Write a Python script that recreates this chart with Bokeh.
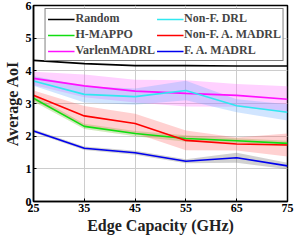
from bokeh.plotting import figure
from bokeh.models import Legend, LegendItem, Range1d, ColumnDataSource
from bokeh.embed import file_html
from bokeh.resources import INLINE

capacity = [25, 35, 45, 55, 65, 75]
x_ticks = [25, 35, 45, 55, 65, 75]
y_ticks = [0, 1, 2, 3, 4, 5, 6]

random_v = [4.32, 4.22, 4.16, 4.16, 4.15, 4.15]
nonf_drl = [3.69, 3.28, 3.21, 3.40, 2.93, 2.73]
varlen = [3.77, 3.54, 3.38, 3.31, 3.25, 3.13]
hmappo = [3.16, 2.30, 2.08, 1.93, 1.86, 1.78]
nonf_amadrl = [3.25, 2.62, 2.39, 1.87, 1.76, 1.73]
fa_madrl = [2.16, 1.63, 1.49, 1.23, 1.34, 1.09]

# half widths of the shaded bands
nonf_drl_sd = [0.15, 0.25, 0.25, 0.30, 0.20, 0.25]
varlen_sd = [0.20, 0.35, 0.35, 0.40, 0.35, 0.40]
hmappo_sd = [0.10, 0.08, 0.08, 0.10, 0.08, 0.08]
nonf_amadrl_sd = [0.15, 0.30, 0.30, 0.30, 0.20, 0.35]
fa_madrl_sd = [0.05, 0.05, 0.06, 0.06, 0.15, 0.10]

series = [
    ("Random", random_v, None, "#000000", None),
    ("H-MAPPO", hmappo, hmappo_sd, "#10dd10", "#66bb22"),
    ("VarlenMADRL", varlen, varlen_sd, "#ff10ff", "#ff66ff"),
    ("Non-F. DRL", nonf_drl, nonf_drl_sd, "#30e8f0", "#66aaff"),
    ("Non-F. A. MADRL", nonf_amadrl, nonf_amadrl_sd, "#ff0000", "#ff6666"),
    ("F. A. MADRL", fa_madrl, fa_madrl_sd, "#0000ee", "#666666"),
]

FONT = "Liberation Serif"

p = figure(width=295, height=236, output_backend="svg", toolbar_location=None,
           x_range=Range1d(25, 75), y_range=Range1d(0, 6),
           min_border_left=26, min_border_right=8, min_border_top=5, min_border_bottom=0)

for name, vals, sd, col, bcol in series:
    if sd is None:
        continue
    lo = [v - s for v, s in zip(vals, sd)]
    hi = [v + s for v, s in zip(vals, sd)]
    p.varea(x=capacity, y1=lo, y2=hi, fill_color=bcol, fill_alpha=0.3)

items = {}
for name, vals, sd, col, bcol in series:
    r = p.line(capacity, vals, line_color=col, line_width=1.6)
    items[name] = r

order = ["Random", "H-MAPPO", "VarlenMADRL", "Non-F. DRL", "Non-F. A. MADRL", "F. A. MADRL"]
legend = Legend(items=[LegendItem(label=n, renderers=[items[n]]) for n in order],
                location="top_right", nrows=3, orientation="vertical")
legend.label_text_font = FONT
legend.label_text_font_style = "bold"
legend.label_text_font_size = "12px"
legend.label_height = 12
legend.glyph_height = 12
legend.glyph_width = 27
legend.label_standoff = 1
legend.spacing = 1
legend.padding = 2
legend.margin = 3
legend.border_line_color = "black"
legend.border_line_width = 1.5
legend.background_fill_alpha = 1
p.add_layout(legend)

p.xaxis.ticker = x_ticks
p.yaxis.ticker = y_ticks
for ax in (p.xaxis, p.yaxis):
    ax.major_label_text_font = FONT
    ax.major_label_text_font_style = "bold"
    ax.major_label_text_font_size = "12px"
    ax.axis_label_text_font = FONT
    ax.axis_label_text_font_style = "bold"
    ax.axis_label_text_font_size = "16px"
    ax.axis_line_color = "black"
    ax.axis_line_width = 1.5
    ax.major_tick_in = 3
    ax.major_tick_out = 0
    ax.minor_tick_line_color = None
    ax.major_label_standoff = 2
    ax.axis_label_standoff = 2
    ax.major_label_text_color = "black"
    ax.axis_label_text_color = "#222222"
p.xaxis.axis_label = "Edge Capacity (GHz)"
p.yaxis.axis_label = "Average AoI"

p.xgrid.grid_line_color = "#cccccc"
p.ygrid.grid_line_color = "#cccccc"
p.xgrid.ticker = x_ticks
p.ygrid.ticker = y_ticks
p.outline_line_color = "black"
p.outline_line_width = 1.5
p.outline_line_alpha = 1

open("out.html", "w").write(file_html(p, INLINE))
